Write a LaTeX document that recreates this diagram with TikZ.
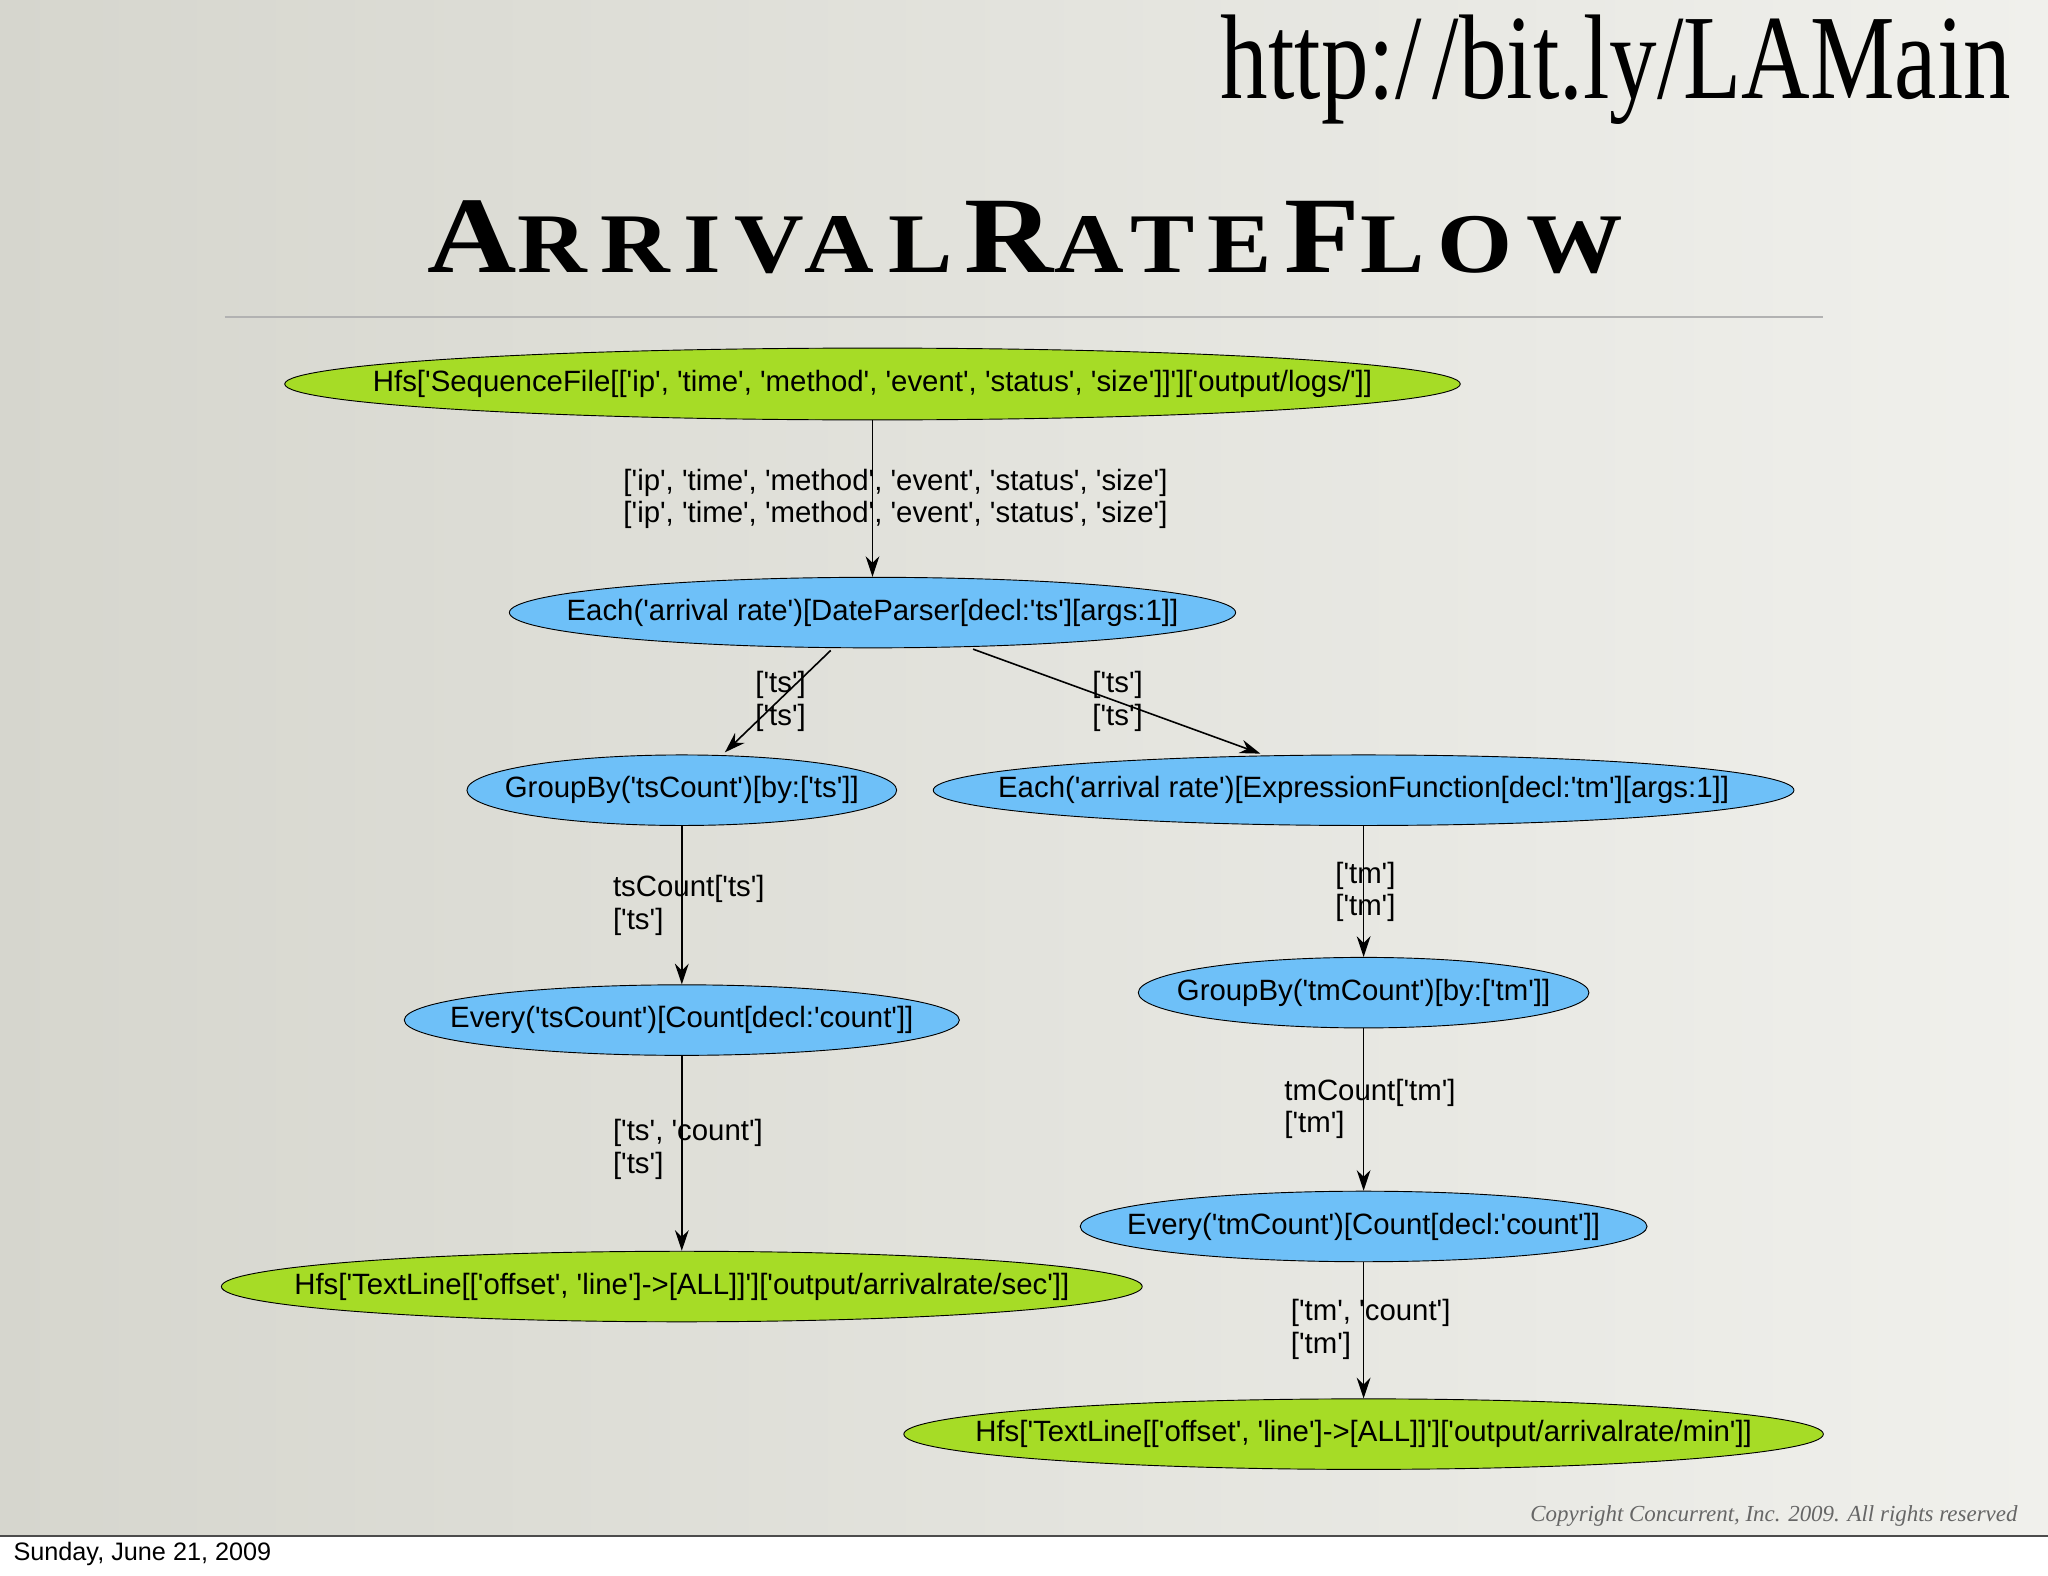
\documentclass[tikz,border=0pt]{standalone}
\usepackage{fontspec}
\setmainfont{Liberation Sans}[Ligatures=TeXOff]
\newfontfamily\serifa{Liberation Serif}
\newfontfamily\titlefont{Liberation Serif}[LetterSpace=14]
\usetikzlibrary{arrows.meta,shapes.geometric}
\definecolor{grn}{RGB}{166,220,38}
\definecolor{blu}{RGB}{110,192,248}
\tikzset{
 txt/.style={font=\fontsize{12.8}{14}\selectfont,inner sep=0pt},
 grnnode/.style={ellipse,draw=black,fill=grn,inner sep=0pt},
 blunode/.style={ellipse,draw=black,fill=blu,inner sep=0pt},
 edge/.style={draw=black,line width=0.7pt,-{Stealth[length=9pt,width=6pt]}},
 lbl/.style={anchor=west,align=left,inner sep=0pt,font=\fontsize{12.8}{14.2}\selectfont}
}
\begin{document}
\begin{tikzpicture}[x=0.02cm,y=-0.02cm]
\useasboundingbox (0,0) rectangle (1568,1206);
\fill[white] (0,0) rectangle (1568,1206);
\shade[left color={rgb,255:red,214;green,214;blue,206},right color={rgb,255:red,240;green,240;blue,236}] (0,0) rectangle (1568,1176);
\draw[black!70,line width=0.6pt] (0,1176) -- (1568,1176);
\draw[black!30,line width=0.8pt] (172,243) -- (1396,243);
\node[anchor=south east,inner sep=0pt] (url) at (1540,96) {\resizebox{12.1cm}{1.28cm}{\serifa http:/\kern0.12em/bit.ly/LAMain}};
\node[anchor=south,inner sep=0pt] (title) at (785,210) {\resizebox{18.3cm}{1.1cm}{\titlefont\bfseries{\fontsize{50}{50}\selectfont A}{\fontsize{39}{39}\selectfont RRIVAL}\hspace{0.5em}{\fontsize{50}{50}\selectfont R}{\fontsize{39}{39}\selectfont ATE}\hspace{0.5em}{\fontsize{50}{50}\selectfont F}{\fontsize{39}{39}\selectfont LOW}}};

\node[grnnode,minimum width=900*0.02cm,minimum height=55*0.02cm,label={[txt]center:Hfs['SequenceFile[['ip', 'time', 'method', 'event', 'status', 'size']]']['output/logs/']]}] (n1) at (668,294) {};
\node[blunode,minimum width=556*0.02cm,minimum height=54*0.02cm,label={[txt]center:Each('arrival rate')[DateParser[decl:'ts'][args:1]]}] (n2) at (668,469) {};
\node[blunode,minimum width=329*0.02cm,minimum height=54*0.02cm,label={[txt]center:GroupBy('tsCount')[by:['ts']]}] (n3) at (522,605) {};
\node[blunode,minimum width=659*0.02cm,minimum height=54*0.02cm,label={[txt]center:Each('arrival rate')[ExpressionFunction[decl:'tm'][args:1]]}] (n4) at (1044,605) {};
\node[blunode,minimum width=425*0.02cm,minimum height=54*0.02cm,label={[txt]center:Every('tsCount')[Count[decl:'count']]}] (n5) at (522,781) {};
\node[blunode,minimum width=345*0.02cm,minimum height=54*0.02cm,label={[txt]center:GroupBy('tmCount')[by:['tm']]}] (n6) at (1044,760) {};
\node[grnnode,minimum width=705*0.02cm,minimum height=54*0.02cm,label={[txt]center:Hfs['TextLine[['offset', 'line']->[ALL]]']['output/arrivalrate/sec']]}] (n7) at (522,985) {};
\node[blunode,minimum width=434*0.02cm,minimum height=54*0.02cm,label={[txt]center:Every('tmCount')[Count[decl:'count']]}] (n8) at (1044,939) {};
\node[grnnode,minimum width=704*0.02cm,minimum height=54*0.02cm,label={[txt]center:Hfs['TextLine[['offset', 'line']->[ALL]]']['output/arrivalrate/min']]}] (n9) at (1044,1098) {};

\coordinate (s2a) at (636,498);
\coordinate (s2b) at (745,497);
\coordinate (t3) at (555,576);
\coordinate (t4) at (965,577);
\draw[edge] (n1.south) -- (n2.north);
\draw[edge] (s2a) -- (t3);
\draw[edge] (s2b) -- (t4);
\draw[edge] (n3.south) -- (n5.north);
\draw[edge] (n4.south) -- (n6.north);
\draw[edge] (n5.south) -- (n7.north);
\draw[edge] (n6.south) -- (n8.north);
\draw[edge] (n8.south) -- (n9.north);

\node[lbl] (l1) at (477,382) {['ip', 'time', 'method', 'event', 'status', 'size']\\{}['ip', 'time', 'method', 'event', 'status', 'size']};
\node[lbl] (l2) at (578,537) {['ts']\\{}['ts']};
\node[lbl] (l3) at (836,537) {['ts']\\{}['ts']};
\node[lbl] (l4) at (469,693) {tsCount['ts']\\{}['ts']};
\node[lbl] (l5) at (1022,683) {['tm']\\{}['tm']};
\node[lbl] (l6) at (469,880) {['ts', 'count']\\{}['ts']};
\node[lbl] (l7) at (983,849) {tmCount['tm']\\{}['tm']};
\node[lbl] (l8) at (988,1018) {['tm', 'count']\\{}['tm']};

\node[anchor=east,inner sep=0pt,text=black!60,font=\serifa\itshape\fontsize{10}{10}\selectfont] (copy) at (1545,1161) {Copyright Concurrent, Inc. 2009. All rights reserved};
\node[anchor=west,inner sep=0pt,font=\fontsize{11}{12}\selectfont] (date) at (10,1190) {Sunday, June 21, 2009};
\end{tikzpicture}
\end{document}
